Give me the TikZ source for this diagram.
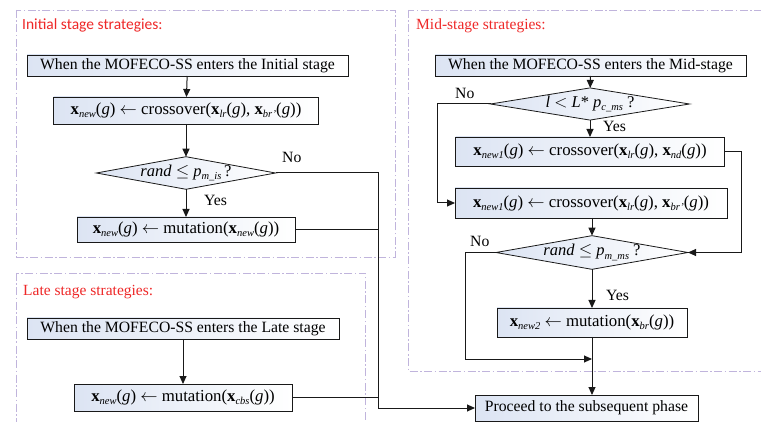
\documentclass[tikz,border=0pt]{standalone}
\usepackage{fontspec}
\setmainfont{Liberation Serif}
\newfontfamily\headsans{Carlito}
\usetikzlibrary{arrows.meta,shapes.geometric}

\definecolor{boxblue}{RGB}{220,228,243}
\definecolor{framecol}{RGB}{192,180,220}
\definecolor{headred}{RGB}{238,40,40}

% bold vector, lowered italic subscript, italic variable
\newcommand{\bvec}{\textbf{x}}
\newcommand{\isub}[1]{\raisebox{-3.2pt}{\fontsize{10.5}{11}\selectfont\itshape #1}}
\newcommand{\ivar}[1]{\textit{#1}}

\begin{document}
\begin{tikzpicture}[x=1pt,y=-1pt,
  every node/.style={font=\fontsize{15.7}{18}\selectfont},
  formula/.style={font=\fontsize{16.8}{18}\selectfont},
  stagebox/.style={draw=black!90,line width=0.8pt,left color=boxblue,right color=white,
    inner sep=0pt,outer sep=0pt},
  decision/.style={diamond,draw=black!90,line width=0.8pt,left color=boxblue,right color=white,
    inner sep=0pt,outer sep=0pt,aspect=5.5,font=\fontsize{16.5}{18}\selectfont},
  frame/.style={draw=framecol,line width=0.9pt,
    dash pattern=on 8pt off 2.5pt on 1.5pt off 2.5pt},
  flow/.style={draw=black!90,line width=1pt},
  flowarrow/.style={flow,-{Triangle[length=8pt,width=7pt]}},
  heading/.style={text=headred,anchor=base west,inner sep=0pt,
    font=\fontsize{15.5}{18}\selectfont},
  tag/.style={inner sep=0pt,anchor=base west}]

\useasboundingbox (0,0) rectangle (761,422);
\clip (0,0) rectangle (761,422);

% stage frames
\draw[frame] (16,10) rectangle (395,257);
\draw[frame] (16,273) rectangle (365,440);
\draw[frame] (408,10) rectangle (775,371);

\node[heading,font=\headsans\fontsize{15.5}{18}\selectfont] (hinit) at (22,30) {Initial stage strategies:};
\node[heading] (hlate) at (23,296) {Late stage strategies:};
\node[heading] (hmid) at (416,30) {Mid-stage strategies:};

% initial stage
\node[stagebox,minimum width=321pt,minimum height=21pt] (ib1) at (187.5,65.5)
  {When the MOFECO-SS enters the Initial stage};
\node[stagebox,formula,minimum width=265pt,minimum height=27pt] (ib2) at (186,110.5)
  {\bvec\isub{new}(\ivar{g}) $\leftarrow$ crossover(\bvec\isub{lr}(\ivar{g}), \bvec\isub{br'}(\ivar{g}))};
\node[decision,minimum width=170pt,minimum height=31pt] (idia) at (186,173)
  {\ivar{rand} $\leq$ \ivar{p}\isub{m\_is}\,?};
\node[stagebox,formula,minimum width=218pt,minimum height=25pt] (ib3) at (186,229.5)
  {\bvec\isub{new}(\ivar{g}) $\leftarrow$ mutation(\bvec\isub{new}(\ivar{g}))};

% late stage
\node[stagebox,minimum width=312pt,minimum height=21pt] (lb1) at (183,328.5)
  {When the MOFECO-SS enters the Late stage};
\node[stagebox,formula,minimum width=218pt,minimum height=27pt] (lb2) at (183,397.5)
  {\bvec\isub{new}(\ivar{g}) $\leftarrow$ mutation(\bvec\isub{cbs}(\ivar{g}))};

% mid stage
\node[stagebox,minimum width=311pt,minimum height=21pt] (mb1) at (590.5,65.5)
  {When the MOFECO-SS enters the Mid-stage};
\node[decision,minimum width=199pt,minimum height=30pt] (mdia1) at (590,104)
  {\ivar{l} $<$ \ivar{L}* \ivar{p}\isub{c\_ms} ?};
\node[stagebox,formula,minimum width=269pt,minimum height=29pt] (mb2) at (590,151.5)
  {\bvec\isub{new1}(\ivar{g}) $\leftarrow$ crossover(\bvec\isub{lr}(\ivar{g}), \bvec\isub{nd}(\ivar{g}))};
\node[stagebox,formula,minimum width=272pt,minimum height=30pt] (mb3) at (591,203)
  {\bvec\isub{new1}(\ivar{g}) $\leftarrow$ crossover(\bvec\isub{lr}(\ivar{g}), \bvec\isub{br'}(\ivar{g}))};
\node[decision,minimum width=192pt,minimum height=31pt] (mdia2) at (592,252.5)
  {\ivar{rand} $\leq$ \ivar{p}\isub{m\_ms} ?};
\node[stagebox,formula,minimum width=190pt,minimum height=29pt] (mb4) at (592,322.5)
  {\bvec\isub{new2} $\leftarrow$ mutation(\bvec\isub{br}(\ivar{g}))};

% common exit
\node[stagebox,minimum width=223pt,minimum height=26pt] (proc) at (586.5,408)
  {Proceed to the subsequent phase};

% junction points
\coordinate (jtop) at (378,173);
\coordinate (jbot) at (378,408);
\coordinate (jmid) at (592,359);
\coordinate (jleft) at (465,359);

% initial stage flow
\draw[flowarrow] (ib1) -- (ib2);
\draw[flowarrow] (ib2) -- (idia);
\draw[flowarrow] (idia) -- (ib3);
\draw[flow] (idia.east) -- (jtop) -- (jbot);
\draw[flow] (ib3.east) -- (ib3.east -| jtop);
\draw[flowarrow] (jbot) -- (proc.west);

% late stage flow
\draw[flowarrow] (lb1) -- (lb2);
\draw[flow] (lb2.east) -- (lb2.east -| jtop);

% mid stage flow
\draw[flowarrow] (mb1) -- (mdia1);
\draw[flowarrow] (mdia1) -- (mb2.north -| mdia1.south);
\draw[flowarrow] (mdia1.west) -- (437,104) |- (mb3.west);
\draw[flowarrow] (mb2.east) -- (741,151.5) |- (mdia2.east);
\draw[flowarrow] (mb3.south -| mdia2.north) -- (mdia2.north);
\draw[flowarrow] (mdia2) -- (mb4);
\draw[flow] (mdia2.west) -- (jleft |- mdia2.west) -- (jleft);
\draw[flowarrow] (jleft) -- (jmid);
\draw[flowarrow] (mb4) -- (proc.north -| mb4.south);

% branch labels
\node[tag] (lno1) at (282,163) {No};
\node[tag] (lyes1) at (204,206) {Yes};
\node[tag] (lno2) at (455,99) {No};
\node[tag] (lyes2) at (603,132) {Yes};
\node[tag] (lno3) at (470,247) {No};
\node[tag] (lyes3) at (606,301) {Yes};

\end{tikzpicture}
\end{document}
